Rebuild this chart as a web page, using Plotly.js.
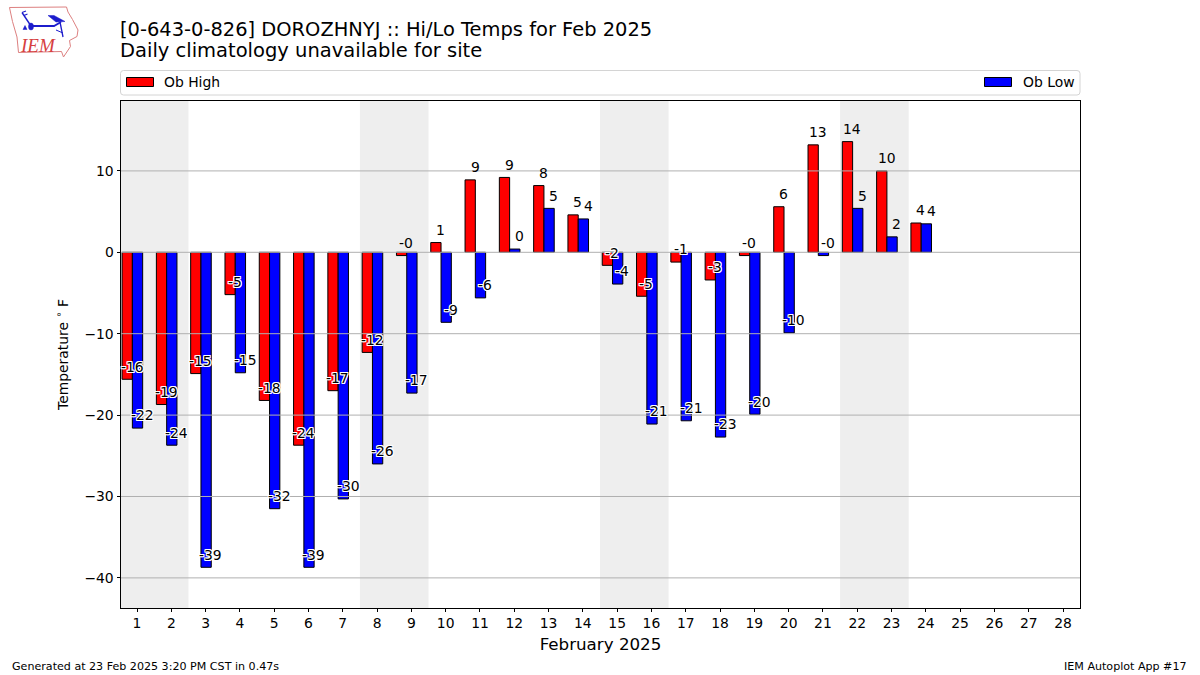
<!DOCTYPE html>
<html><head><meta charset="utf-8">
<script src="https://cdn.plot.ly/plotly-3.0.1.min.js"></script>
<style>html,body{margin:0;padding:0;background:#fff}</style></head>
<body><div id="chart" style="width:1200px;height:675px"></div>
<script>
const days=[1,2,3,4,5,6,7,8,9,10,11,12,13,14,15,16,17,18,19,20,21,22,23,24];
const dayTicks=[1,2,3,4,5,6,7,8,9,10,11,12,13,14,15,16,17,18,19,20,21,22,23,24,25,26,27,28];
const obHigh=[-15.6,-18.7,-14.9,-5.2,-18.2,-23.7,-17,-12.3,-0.4,1.2,8.9,9.2,8.2,4.6,-1.6,-5.4,-1.2,-3.4,-0.4,5.6,13.2,13.6,10,3.6];
const obLow=[-21.6,-23.7,-38.7,-14.8,-31.5,-38.7,-30.3,-26,-17.3,-8.6,-5.6,0.4,5.4,4.1,-3.9,-21.1,-20.7,-22.7,-19.9,-9.9,-0.4,5.4,1.9,3.5];
const highLabels=["-16","-19","-15","-5","-18","-24","-17","-12","-0","1","9","9","8","5","-2","-5","-1","-3","-0","6","13","14","10","4"];
const lowLabels=["-22","-24","-39","-15","-32","-39","-30","-26","-17","-9","-6","0","5","4","-4","-21","-21","-23","-20","-10","-0","5","2","4"];
const weekends=[[0.5,2.5],[7.5,9.5],[14.5,16.5],[21.5,23.5]];
const yTicks=[-40,-30,-20,-10,0,10];

const FONT='"DejaVu Sans", sans-serif';
const M={l:121,r:120,t:101,b:67}, W=1200, H=675;
const PW=W-M.l-M.r, PH=H-M.t-M.b;
const px=x=>(x-M.l)/PW, py=y=>(H-M.b-y)/PH;
const path=pts=>'M'+pts.map(p=>px(p[0]).toFixed(5)+','+py(p[1]).toFixed(5)).join(' L')+' ';
const paperShape=(o)=>Object.assign({xref:'paper',yref:'paper',layer:'above'},o);
const rectPx=(x0,y0,x1,y1,fill)=>paperShape({type:'rect',x0:px(x0),x1:px(x1),y0:py(y0),y1:py(y1),fillcolor:fill,line:{color:'#000',width:1}});
const linePx=(pts,color,w)=>paperShape({type:'path',path:path(pts),line:{color,width:w}});
const polyPx=(pts,color)=>paperShape({type:'path',path:path(pts)+'Z',fillcolor:color,line:{color,width:0.5}});
const textPx=(t,x,y,anchor,size)=>({xref:'paper',yref:'paper',x:px(x),y:py(y),text:t,showarrow:false,xanchor:anchor,yanchor:'middle',
  font:{family:FONT,size,color:'#000'}});

const halo='1px 0 0 #fff,-1px 0 0 #fff,0 1px 0 #fff,0 -1px 0 #fff,1px 1px 0 #fff,-1px -1px 0 #fff,1px -1px 0 #fff,-1px 1px 0 #fff';
const bar=(name,y,color,offset)=>({type:'bar',name,x:days,y,width:0.3,offset,
  marker:{color,line:{color:'#000',width:1}},hoverinfo:'x+y'});
const labelAnn=(labels,vals,dx)=>labels.map((t,i)=>({xref:'x',yref:'y',x:days[i]+dx,y:vals[i],text:t,showarrow:false,
  yshift:12.7,xanchor:'center',yanchor:'middle',font:{family:FONT,size:13.9,color:'#000',shadow:vals[i]<0&&t!=='-0'?halo:'none'}}));

// rounded legend frame, drawn in pixel positions
const fx0=120.5,fx1=1080,fy0=70.5,fy1=95,r=3;
const frame=paperShape({type:'path',
  path:`M${px(fx0+r)},${py(fy0)} L${px(fx1-r)},${py(fy0)} Q${px(fx1)},${py(fy0)} ${px(fx1)},${py(fy0+r)} L${px(fx1)},${py(fy1-r)} Q${px(fx1)},${py(fy1)} ${px(fx1-r)},${py(fy1)} L${px(fx0+r)},${py(fy1)} Q${px(fx0)},${py(fy1)} ${px(fx0)},${py(fy1-r)} L${px(fx0)},${py(fy0+r)} Q${px(fx0)},${py(fy0)} ${px(fx0+r)},${py(fy0)} Z`,
  line:{color:'#d4d4d4',width:1},fillcolor:'#fff'});

const logoRed='#dd8080', logoBlue='#1c1ccc';
const logo=[
  linePx([[9.5,7.5],[66.5,7],[68,12],[72.5,19.5],[78,30],[77,36.5],[69.5,40.5],[70.5,46.5],[63.5,57],[61.5,51.5],[18.5,52.5],[17,37],[12.5,21.5],[9.5,7.5]],logoRed,1),
  linePx([[31,26],[54,26],[61,22]],logoBlue,1.8),
  linePx([[31,26],[22,12.5]],logoBlue,1.4),
  linePx([[22,12.5],[26,11]],logoBlue,1.1),
  linePx([[24,15.5],[27.5,14]],logoBlue,1.1),
  polyPx([[48,15.5],[54,15.5],[65,21.5],[56,22]],logoBlue),
  linePx([[60,22],[63,37]],logoBlue,1.3),
  linePx([[56,30],[63,33]],logoBlue,1),
  paperShape({type:'circle',x0:px(28.5),x1:px(33.5),y0:py(23),y1:py(30),fillcolor:logoBlue,line:{color:logoBlue,width:0.5}}),
  polyPx([[23,29.5],[27,29.5],[25,25.5]],logoBlue)
];

const shapes=[
  ...weekends.map(w=>({type:'rect',xref:'x',yref:'paper',x0:w[0],x1:w[1],y0:0,y1:1,fillcolor:'#eeeeee',line:{width:0},layer:'below'})),
  ...yTicks.map(v=>({type:'line',xref:'paper',yref:'y',x0:0,x1:1,y0:v,y1:v,line:{color:'#b0b0b0',width:1},layer:'above'})),
  frame,
  rectPx(126.5,77.5,153.5,86.5,'#ff0000'),
  rectPx(984.5,77.5,1011.5,86.5,'#0000ff'),
  ...logo
];
const annotations=[
  ...labelAnn(highLabels,obHigh,-0.145),
  ...labelAnn(lowLabels,obLow,0.155),
  textPx('Daily climatology unavailable for site',118,50.5,'left',19.5),
  textPx('Ob High',161.5,82,'left',13.9),
  textPx('Ob Low',1020.5,82,'left',13.9),
  textPx('Generated at 23 Feb 2025 3:20 PM CST in 0.47s',10,666,'left',11.1),
  textPx('IEM Autoplot App #17',1189,666,'right',11.1),
  {xref:'paper',yref:'paper',x:px(37.5),y:py(45),text:'<i>IEM</i>',showarrow:false,xanchor:'center',yanchor:'middle',
    font:{family:'"Liberation Serif", serif',size:19,color:'#d6403f'}}
];
Plotly.newPlot('chart',[bar('Ob High',obHigh,'#ff0000',-0.435),bar('Ob Low',obLow,'#0000ff',-0.135)],{
  width:W,height:H,paper_bgcolor:'#fff',plot_bgcolor:'#fff',
  margin:{l:M.l,r:M.r,t:M.t,b:M.b,pad:0},
  barmode:'overlay',showlegend:false,
  title:{text:'[0-643-0-826] DOROZHNYJ :: Hi/Lo Temps for Feb 2025',
    x:0.1,xanchor:'left',xref:'container',y:0.9565,yanchor:'middle',yref:'container',font:{family:FONT,size:19.45,color:'#000'}},
  xaxis:{range:[0.5335,28.495],tickmode:'array',tickvals:dayTicks,ticktext:dayTicks.map(String),ticks:'outside',ticklen:3,tickcolor:'#000',ticklabelstandoff:-1,
    showgrid:false,zeroline:false,showline:true,mirror:true,linecolor:'#000',linewidth:1,
    tickfont:{family:FONT,size:13.9,color:'#000'},
    title:{text:'February 2025',font:{family:FONT,size:16.7,color:'#000'},standoff:8}},
  yaxis:{range:[-43.70,18.59],tickmode:'array',tickvals:yTicks,ticktext:yTicks.map(v=>v<0?'\u2212'+(-v):String(v)),ticks:'outside',ticklen:3.5,tickcolor:'#000',
    showgrid:false,zeroline:false,showline:true,mirror:true,linecolor:'#000',linewidth:1,
    tickfont:{family:FONT,size:13.9,color:'#000'},
    title:{text:'Temperature <sup>\u2218</sup> F',font:{family:FONT,size:13.9,color:'#000'},standoff:12}},
  shapes,annotations
},{displayModeBar:false,responsive:false});
</script></body></html>
